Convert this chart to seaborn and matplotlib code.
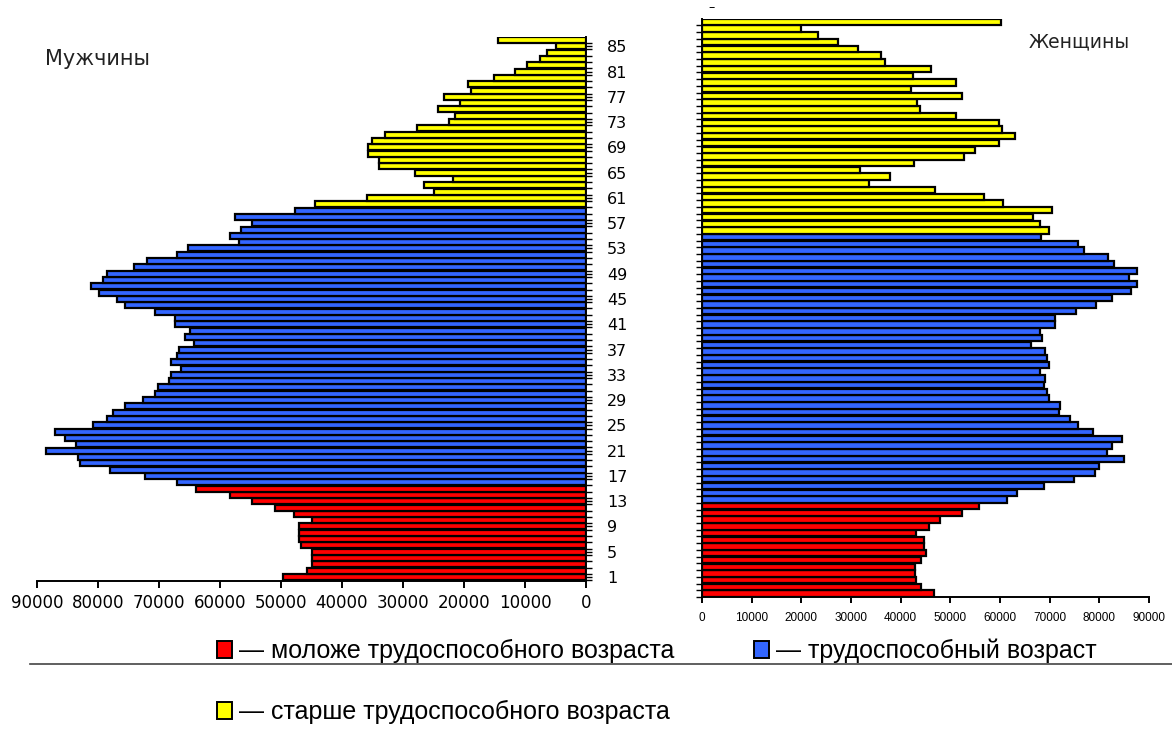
import matplotlib
matplotlib.use("Agg")
import pandas as pd
import matplotlib.pyplot as plt
import seaborn as sns
from matplotlib.patches import Patch
from matplotlib.lines import Line2D
from matplotlib.ticker import FixedLocator

# ages 1..86 (bottom to top)
AGES = list(range(1, 87))

# men
MEN_YOUNG = [49600, 45700, 45000, 45000, 45000, 46700, 47100, 47100, 47100, 45000,
             47800, 51000, 54800, 58300, 63900]
MEN_WORK = [67100, 72300, 78000, 82900, 83300, 88500, 83600, 85400, 87100, 80800,
            78600, 77500, 75500, 72700, 70600, 70200, 68400, 68000, 66400, 68000,
            67100, 66800, 64200, 65700, 65000, 67400, 67400, 70600, 75500, 76900,
            79800, 81200, 79100, 78600, 74100, 72000, 67100, 65300, 56900, 58300,
            56600, 54800, 57600, 47700]
MEN_OLD = [44500, 35900, 25000, 26600, 21800, 28000, 34000, 34000, 35800, 35800,
           35100, 33000, 27700, 22400, 21500, 24200, 20700, 23200, 18900, 19300,
           15100, 11600, 9600, 7500, 6400, 5000, 14500]

# women
WOMEN_YOUNG = [46800, 44000, 43100, 42800, 42800, 44000, 45000, 44600, 44600, 43100,
               45700, 48000, 52300, 55800]
WOMEN_WORK = [61400, 63500, 68800, 74800, 79200, 80000, 85000, 81500, 82600, 84600,
              78700, 75800, 74100, 71900, 72000, 69900, 69500, 68800, 69100, 68000,
              69900, 69500, 69100, 66300, 68500, 68000, 71100, 71100, 75400, 79400,
              82600, 86400, 87500, 86000, 87500, 82900, 81800, 76900, 75800, 68200]
WOMEN_OLD = [69800, 68000, 66600, 70500, 60700, 56800, 47000, 33700, 37900, 31900,
             42700, 52700, 55000, 59700, 63100, 60400, 59700, 51200, 43800, 43300,
             52300, 42000, 51200, 42500, 46200, 36800, 36100, 31500, 27300, 23400,
             19900, 60300]

GROUPS = ["моложе трудоспособного возраста", "трудоспособный возраст",
          "старше трудоспособного возраста"]
COLORS = ["#ff0000", "#3366ff", "#ffff00"]
AGE_LABELS = list(range(1, 86, 4))
X_TICKS = list(range(0, 90001, 10000))

W, H = 1172, 736


def make_frame(young, work, old):
    values = young + work + old
    groups = [GROUPS[0]] * len(young) + [GROUPS[1]] * len(work) + [GROUPS[2]] * len(old)
    return pd.DataFrame({"age": AGES, "people": values, "group": groups})


def box(x0, y_top, x1, y_bot):
    # pixel box -> figure fraction rect
    return [x0 / W, 1 - y_bot / H, (x1 - x0) / W, (y_bot - y_top) / H]


def draw_half(ax, df):
    sns.barplot(data=df, x="people", y="age", hue="group", hue_order=GROUPS,
                palette=COLORS, orient="h", native_scale=True, dodge=False,
                width=0.95, saturation=1, errorbar=None, edgecolor="black",
                linewidth=1.6, legend=False, ax=ax)
    ax.set_xlabel("")
    ax.set_ylabel("")
    ax.set_xticks(X_TICKS)
    ax.yaxis.set_minor_locator(FixedLocator([a - 0.5 for a in AGES]))
    for s in ["top", "left", "right", "bottom"]:
        ax.spines[s].set_linewidth(1.4)
    ax.tick_params(axis="x", length=5, width=1.4)
    ax.tick_params(axis="y", which="both", length=4, width=1.0)


men = make_frame(MEN_YOUNG, MEN_WORK, MEN_OLD)
women = make_frame(WOMEN_YOUNG, WOMEN_WORK, WOMEN_OLD)

fig = plt.figure(figsize=(W / 100, H / 100), dpi=100)

# left half: men
ax_m = fig.add_axes(box(37, 36.8, 586, 581))
draw_half(ax_m, men)
ax_m.set_xlim(90000, 0)
ax_m.set_ylim(0.37, 86.5)
ax_m.spines["top"].set_visible(False)
ax_m.spines["left"].set_visible(False)
ax_m.yaxis.tick_right()
ax_m.set_yticks(AGE_LABELS)
ax_m.set_yticklabels([str(a) for a in AGE_LABELS], family="DejaVu Sans", fontsize=11.5)
ax_m.tick_params(axis="y", which="major", pad=11)
ax_m.set_xticklabels([str(v) for v in X_TICKS], family="DejaVu Sans", fontsize=12)
ax_m.tick_params(axis="x", pad=4)
ax_m.text(0.015, 0.96, "Мужчины", transform=ax_m.transAxes, family="DejaVu Sans",
          fontsize=15, color="#222222", va="center", ha="left")

# right half: women
ax_w = fig.add_axes(box(702, 18.6, 1149, 597))
draw_half(ax_w, women)
ax_w.set_xlim(0, 90000)
ax_w.set_ylim(0.5, 86.5)
ax_w.spines["top"].set_visible(False)
ax_w.spines["right"].set_visible(False)
ax_w.set_yticks([])
ax_w.set_xticklabels([str(v) for v in X_TICKS], family="Liberation Sans", fontsize=8.5)
ax_w.tick_params(axis="x", length=4, pad=7)
ax_w.text(0.73, 0.96, "Женщины", transform=ax_w.transAxes, family="DejaVu Sans",
          fontsize=13.5, color="#222222", va="center", ha="left")

fig.text(712 / W, 1 - 8 / H, "–", fontsize=9, ha="center", va="center")

# legend rows with a rule under the first one
handles = [Patch(facecolor=c, edgecolor="black", linewidth=1.4) for c in COLORS]
legend_font = {"family": "Liberation Sans", "size": 18}
row1 = fig.legend(handles[:2], ["— " + g for g in GROUPS[:2]], ncol=2,
                  loc="center left", bbox_to_anchor=(217 / W, 1 - 651 / H),
                  frameon=False, prop=legend_font, handlelength=0.58,
                  handleheight=0.7, handletextpad=0.3, columnspacing=3.2,
                  borderpad=0, borderaxespad=0)
row2 = fig.legend(handles[2:], ["— " + GROUPS[2]], loc="center left",
                  bbox_to_anchor=(217 / W, 1 - 712 / H), frameon=False,
                  prop=legend_font, handlelength=0.58, handleheight=0.7,
                  handletextpad=0.3, borderpad=0, borderaxespad=0)
fig.add_artist(Line2D([30 / W, 1.0], [1 - 664 / H, 1 - 664 / H],
                      transform=fig.transFigure, color="#444444", linewidth=1.2))

fig.savefig("out.png", dpi=100, facecolor="white")
